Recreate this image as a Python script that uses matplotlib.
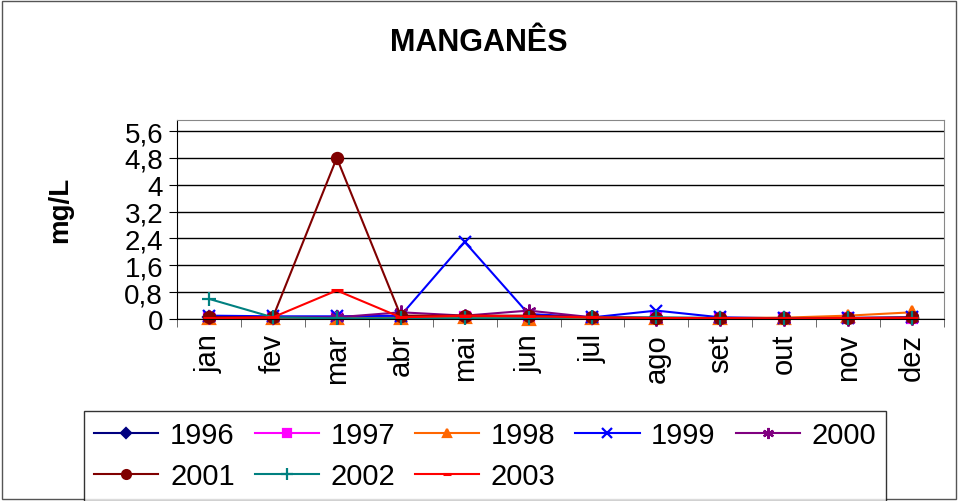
import matplotlib.pyplot as plt

plt.rcParams['font.family'] = ['Liberation Sans', 'DejaVu Sans']

months = ['jan', 'fev', 'mar', 'abr', 'mai', 'jun', 'jul', 'ago', 'set', 'out', 'nov', 'dez']

mn_1996 = [0.05, 0.04, 0.05, 0.05, 0.06, 0.05, 0.04, 0.03, 0.03, 0.02, 0.03, 0.03]
mn_1997 = [0.04, 0.03, 0.04, 0.04, 0.05, 0.04, 0.03, 0.03, 0.02, 0.02, 0.02, 0.03]
mn_1998 = [0.03, 0.03, 0.02, 0.03, 0.05, 0.01, 0.03, 0.02, 0.03, 0.04, 0.10, 0.20]
mn_1999 = [0.10, 0.08, 0.08, 0.10, 2.30, 0.15, 0.05, 0.25, 0.05, 0.02, 0.03, 0.05]
mn_2000 = [0.05, 0.05, 0.05, 0.20, 0.10, 0.25, 0.05, 0.01, 0.01, 0.01, 0.00, 0.02]
mn_2001 = [0.05, 0.05, 4.80, 0.10, 0.10, 0.10, 0.05, 0.03, 0.03, 0.03, 0.03, 0.05]
mn_2002 = [0.60, 0.05, 0.02, 0.02, 0.02, 0.02, 0.05, 0.05, 0.03, 0.02, 0.02, 0.02]
mn_2003 = [0.02, 0.05, 0.85, 0.05, 0.10, 0.08, 0.05, 0.03, 0.03, 0.02, 0.03, 0.03]

# (label, values, colour, marker, marker size)
series = [
    ('1996', mn_1996, '#000080', 'D', 6),
    ('1997', mn_1997, '#FF00FF', 's', 7),
    ('1998', mn_1998, '#FF6600', '^', 8),
    ('1999', mn_1999, '#0000FF', 'x', 9),
    ('2000', mn_2000, '#800080', (6, 2, 0), 10),
    ('2001', mn_2001, '#800000', 'o', 8),
    ('2002', mn_2002, '#008080', '+', 10),
    ('2003', mn_2003, '#FF0000', '_', 8),
]

fig = plt.figure(figsize=(9.58, 5.02), dpi=100)
ax = fig.add_axes([177 / 958, 1 - 320 / 502, (944 - 177) / 958, (320 - 121) / 502])

x = range(len(months))
lines = {}
for label, vals, col, mk, ms in series:
    mew = 2.2 if mk == '_' else 1.6
    lines[label], = ax.plot(x, vals, color=col, marker=mk, markersize=ms, lw=1.5,
                            markeredgewidth=mew, label=label, clip_on=False)

ax.set_xlim(-0.5, 11.5)
ax.set_ylim(0, 5.93)
ax.set_yticks([0, 0.8, 1.6, 2.4, 3.2, 4.0, 4.8, 5.6])
ax.set_yticklabels(['0', '0,8', '1,6', '2,4', '3,2', '4', '4,8', '5,6'], fontsize=20)
ax.yaxis.grid(True, color='black', lw=1)
ax.set_axisbelow(True)

ax.set_xticks(x)
ax.set_xticklabels(months, rotation=90, fontsize=21)
ax.set_xticks([i + 0.5 for i in range(-1, 12)], minor=True)
ax.tick_params(axis='x', which='major', length=0, pad=10)
ax.tick_params(axis='x', which='minor', length=6, direction='out', color='#555555')
ax.tick_params(axis='y', length=6, direction='out', pad=4)

for side in ['top', 'right']:
    ax.spines[side].set_color('#888888')
for side in ['left', 'bottom']:
    ax.spines[side].set_color('black')

fig.text(60 / 958, 1 - 210 / 502, 'mg/L', rotation=90, ha='center', va='center',
         fontsize=20, fontweight='bold')
fig.text(0.5, 1 - 43 / 502, 'MANGANÊS', ha='center', va='center',
         fontsize=22, fontweight='bold')

# legend fills columns first, so interleave to get the years in rows
order = ['1996', '2001', '1997', '2002', '1998', '2003', '1999', '2000']
leg = fig.legend([lines[k] for k in order], order, loc='upper left',
                 bbox_to_anchor=(84 / 958, 1 - 412 / 502),
                 ncol=5, fontsize=21, frameon=True, fancybox=False, markerscale=0.8,
                 handlelength=2.2, handletextpad=0.4, columnspacing=0.68,
                 labelspacing=0.45, borderaxespad=0, borderpad=0.35)
leg.get_frame().set_edgecolor('black')
leg.get_frame().set_linewidth(1)

# border around the whole chart
fig.patches.append(plt.Rectangle((2 / 958, 2 / 502), 954 / 958, 498 / 502,
                                 transform=fig.transFigure, fill=False,
                                 edgecolor='#555555', lw=1))

fig.savefig('out.png', dpi=100)
